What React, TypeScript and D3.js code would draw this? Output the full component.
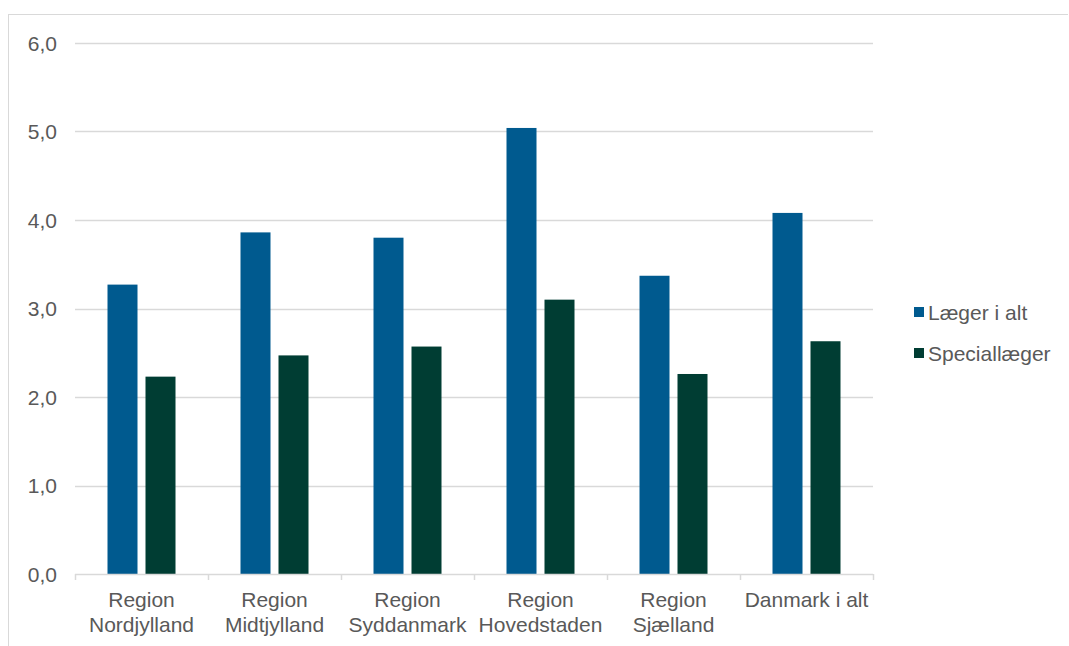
import React from "react";
import * as d3 from "d3";

const categories = [
  ["Region", "Nordjylland"],
  ["Region", "Midtjylland"],
  ["Region", "Syddanmark"],
  ["Region", "Hovedstaden"],
  ["Region", "Sjælland"],
  ["Danmark i alt"],
];
const seriesNames = ["Læger i alt", "Speciallæger"];
const laegerIAlt = [3.27, 3.86, 3.8, 5.04, 3.37, 4.08];
const specialLaeger = [2.23, 2.47, 2.57, 3.1, 2.26, 2.63];
const yTicks = [0, 1, 2, 3, 4, 5, 6];
const colors = ["#005A8F", "#003D33"];

export default function App() {
  const W = 1069, H = 646;
  const left = 75, right = 873, top = 43, bottom = 574;
  const y = d3.scaleLinear().domain([0, 6]).range([bottom, top]);
  const x = d3.scaleBand<number>().domain(d3.range(categories.length)).range([left, right]);
  const bw = 30, gap = 8;
  const series = [laegerIAlt, specialLaeger];
  const font = "'Liberation Sans', Arial, sans-serif";
  const fs = 21;
  const fmt = (v: number) => v.toFixed(1).replace(".", ",");
  return (
    <svg width={W} height={H} style={{ position: "absolute", left: 0, top: 0 }} fontFamily={font}>
      <rect x={0} y={0} width={W} height={H} fill="#fff" />
      <line x1={8.5} x2={8.5} y1={14} y2={H} stroke="#D9D9D9" />
      <line x1={8} x2={1068} y1={14.5} y2={14.5} stroke="#D9D9D9" />
      {yTicks.map((t) => (
        <g key={t}>
          {t > 0 && (
            <line x1={left} x2={right} y1={Math.round(y(t)) + 0.5} y2={Math.round(y(t)) + 0.5} stroke="#D9D9D9" strokeWidth={1.5} />
          )}
          <text x={57} y={y(t) + 7.5} textAnchor="end" fontSize={fs} fill="#595959">
            {fmt(t)}
          </text>
        </g>
      ))}
      {series.map((vals, si) =>
        vals.map((v, i) => {
          const cx = (x(i) as number) + x.bandwidth() / 2;
          const x0 = si === 0 ? cx - gap / 2 - bw : cx + gap / 2;
          return <rect key={si + "-" + i} x={x0} y={y(v)} width={bw} height={bottom - y(v)} fill={colors[si]} />;
        })
      )}
      <line x1={left} x2={right} y1={bottom + 0.5} y2={bottom + 0.5} stroke="#D9D9D9" strokeWidth={1.5} />
      {d3.range(categories.length + 1).map((i) => {
        const xx = Math.round(left + i * x.bandwidth()) + 0.5;
        return <line key={i} x1={xx} x2={xx} y1={bottom} y2={bottom + 6} stroke="#D9D9D9" strokeWidth={1.5} />;
      })}
      {categories.map((lines, i) => {
        const cx = (x(i) as number) + x.bandwidth() / 2;
        return (
          <text key={i} x={cx} textAnchor="middle" fontSize={fs} fill="#595959">
            {lines.map((l, j) => (
              <tspan key={j} x={cx} y={607 + j * 25}>
                {l}
              </tspan>
            ))}
          </text>
        );
      })}
      {seriesNames.map((n, i) => (
        <g key={n}>
          <rect x={914} y={307 + i * 41} width={10} height={10} fill={colors[i]} />
          <text x={928} y={320 + i * 41} fontSize={fs} fill="#595959">
            {n}
          </text>
        </g>
      ))}
    </svg>
  );
}
